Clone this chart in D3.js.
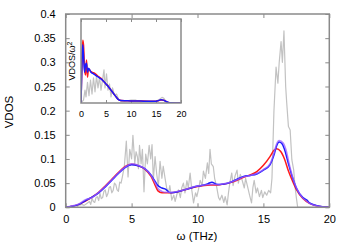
<!DOCTYPE html>
<html>
<head>
<meta charset="utf-8">
<script src="https://cdn.jsdelivr.net/npm/d3@7"></script>
<style>
  body { margin: 0; background: #fff; }
  svg text { font-family: "Liberation Sans", Arial, sans-serif; fill: #000; }
</style>
</head>
<body>
<div id="chart"></div>
<script>
// main panel: VDOS vs omega (THz)
const grayW = [0,0.2,0.4,0.6,0.8,1.0,1.2,1.4,1.6,1.8,1.9,2.0,2.1,2.2,2.3,2.4,2.5,2.6,2.7,2.8,2.9,3.0,3.1,3.2,3.3,3.4,3.5,3.6,3.7,3.8,3.9,4.0,4.1,4.2,4.3,4.45,4.6,4.73,4.86,5.0,5.1,5.24,5.34,5.44,5.52,5.6,5.72,5.82,5.94,6.07,6.2,6.33,6.45,6.55,6.65,6.78,6.9,7.03,7.16,7.3,7.4,7.54,7.66,7.8,7.9,8.05,8.2,8.3,8.45,8.55,8.7,8.8,8.93,9.05,9.2,9.3,9.44,9.57,9.7,9.85,9.95,10.1,10.2,10.35,10.45,10.6,10.75,10.85,10.95,11.05,11.2,11.3,11.45,11.6,11.7,11.85,12.0,12.1,12.25,12.35,12.45,12.6,12.7,12.85,13.0,13.1,13.25,13.4,13.55,13.65,13.8,13.95,14.1,14.2,14.3,14.45,14.55,14.7,14.85,14.95,15.1,15.25,15.4,15.55,15.65,15.8,15.96,16.1,16.2,16.34,16.44,16.56,16.69,16.77,16.9,17.03,17.16,17.3,17.4,17.5,17.6,18.0,20]
const grayV = [0,0,0,0,0,0.004,0.006,0.004,0.008,0.012,0.006,0.019,0.012,0.01,0.02,0.022,0.014,0.029,0.018,0.02,0.033,0.036,0.022,0.028,0.041,0.043,0.03,0.035,0.05,0.047,0.036,0.033,0.052,0.05,0.063,0.085,0.137,0.063,0.12,0.1,0.149,0.091,0.115,0.105,0.08,0.128,0.09,0.12,0.032,0.11,0.09,0.128,0.1,0.13,0.057,0.105,0.07,0.043,0.095,0.06,0.085,0.06,0.04,0.03,0.045,0.015,0.025,0.012,0.028,0.036,0.02,0.04,0.05,0.03,0.055,0.04,0.071,0.035,0.009,0.03,0.022,0.04,0.056,0.045,0.075,0.06,0.092,0.07,0.12,0.09,0.084,0.06,0.043,0.02,0.015,0.025,0.01,0.022,0.005,0.03,0.05,0.071,0.045,0.065,0.077,0.05,0.068,0.055,0.04,0.06,0.043,0.025,0.009,0.04,0.056,0.03,0.04,0.022,0.035,0.02,0.032,0.025,0.035,0.03,0.06,0.2,0.29,0.257,0.3,0.343,0.3,0.365,0.25,0.216,0.167,0.16,0.098,0.077,0.043,0.02,0,0,0]

const redW = [0,0.5,1,1.5,2,2.5,3,3.5,4,4.5,4.8,5,5.5,6,6.5,6.8,7,7.3,7.6,8,8.5,9,9.5,10,10.5,11,11.5,12,12.5,13,13.5,14,14.5,15,15.5,15.8,16,16.3,16.6,16.9,17.2,17.5,18,18.5,19,19.5,20]
const redV = [0,0.002,0.006,0.013,0.021,0.031,0.044,0.058,0.072,0.084,0.088,0.089,0.086,0.079,0.063,0.045,0.034,0.03,0.03,0.03,0.032,0.036,0.04,0.043,0.045,0.046,0.046,0.048,0.051,0.056,0.062,0.067,0.074,0.087,0.105,0.118,0.121,0.116,0.1,0.075,0.055,0.037,0.018,0.008,0.003,0.001,0]

const blueW = [0,0.5,1,1.5,2,2.5,3,3.5,4,4.5,4.8,5,5.5,6,6.5,6.8,7,7.3,7.6,7.8,8,8.5,9,9.5,10,10.5,10.8,11.1,11.4,11.7,12,12.5,13,13.5,14,14.5,15,15.5,15.8,16,16.2,16.4,16.6,16.9,17.2,17.5,18,18.3,18.5,19,19.5,20]
const blueV = [0,0.002,0.006,0.014,0.021,0.03,0.042,0.056,0.07,0.082,0.087,0.088,0.086,0.08,0.066,0.053,0.045,0.04,0.037,0.032,0.03,0.032,0.036,0.04,0.044,0.046,0.049,0.052,0.048,0.047,0.048,0.052,0.058,0.064,0.066,0.069,0.077,0.088,0.108,0.127,0.135,0.132,0.12,0.09,0.062,0.04,0.02,0.015,0.009,0.004,0.001,0]

const purpW = [0,0.5,1,1.5,2,2.5,3,3.5,4,4.5,4.8,5,5.5,6,6.5,6.8,7,7.3,7.6,8,8.5,9,9.5,10,10.5,11,11.5,12,12.5,13,13.5,14,14.5,15,15.5,15.8,16,16.2,16.5,16.7,17,17.3,17.6,18,18.5,19,19.5,20]
const purpV = [0,0.003,0.007,0.016,0.02,0.031,0.043,0.057,0.071,0.083,0.088,0.09,0.087,0.08,0.065,0.05,0.039,0.033,0.031,0.031,0.033,0.036,0.041,0.044,0.046,0.047,0.047,0.049,0.052,0.057,0.063,0.066,0.07,0.078,0.09,0.112,0.131,0.138,0.133,0.12,0.085,0.055,0.035,0.019,0.008,0.003,0.001,0]

// inset: VDOS / omega^2
const inGrayW = [0,0.5,0.8,1.0,1.3,1.6,1.9,2.2,2.5,2.8,3.1,3.4,3.7,4.0,4.3,4.6,4.8,5.1,5.4,5.7,6.0,6.3,6.7,7.1,7.5,8,9,10,11,12,13,14,15,15.8,16.2,16.5,17,17.5,20]
const inGrayV = [0,0.0005,0.0023,0.0011,0.0037,0.0013,0.0041,0.0016,0.0045,0.002,0.0048,0.0027,0.0046,0.0023,0.0041,0.0059,0.0027,0.0052,0.0023,0.0034,0.0011,0.0027,0.0014,0.0016,0.0007,0.0003,0.00036,0.0005,0.0005,0.0002,0.0004,0.0002,0.0003,0.0007,0.001,0.0009,0.0003,0,0]

const inRedW = [0,0.2,0.35,0.5,0.7,0.9,1.1,1.3,1.5,2,2.5,3,3.5,4,4.5,5,5.5,6,6.5,7,7.5,8,9,10,11,12,13,14,15,15.5,16,16.5,17,17.5,18,20]
const inRedV = [0,0.0077,0.0112,0.0104,0.0064,0.005,0.0077,0.0046,0.0061,0.0056,0.0054,0.0051,0.0047,0.0044,0.0039,0.0034,0.0029,0.0023,0.0017,0.0011,0.0006,0.00045,0.0004,0.00036,0.00035,0.00034,0.00033,0.00032,0.00032,0.0004,0.00054,0.0005,0.00027,0.0001,0.00005,0]

const inBlueW = [0,0.2,0.35,0.5,0.7,0.9,1.1,1.3,1.5,2,2.5,3,3.5,4,4.5,5,5.5,6,6.5,7,7.5,8,9,10,11,12,13,14,15,15.5,16,16.5,17,17.5,18,20]
const inBlueV = [0,0.0072,0.0104,0.0086,0.0055,0.0068,0.0071,0.0055,0.0062,0.0055,0.0052,0.0049,0.0046,0.0043,0.0039,0.0034,0.0029,0.0023,0.0017,0.0011,0.0006,0.00045,0.0004,0.00036,0.00036,0.00034,0.00033,0.00032,0.00033,0.00042,0.0006,0.00052,0.00027,0.0001,0.00005,0]

const xTicks = [0,5,10,15,20]
const yTicks = [0,0.05,0.1,0.15,0.2,0.25,0.3,0.35,0.4]
const yTickLabels = ['0','0.05','0.1','0.15','0.2','0.25','0.3','0.35','0.4']

let W = 350, H = 245
let m = {left: 65.7, right: 329.3, top: 14, bottom: 207.3}
let ins = {left: 81, right: 181, top: 19, bottom: 103}

var svg = d3.select('#chart').append('svg')
    .attr('width', W)
    .attr('height', H)

var x = d3.scaleLinear().domain([0, 20]).range([m.left, m.right])
var y = d3.scaleLinear().domain([0, 0.4]).range([m.bottom, m.top])

function drawLine(g, xs, ys, W_, V_, color, width, opacity, curve) {
    var pts = W_.map((w, i) => [w, V_[i]])
    g.append('path')
        .datum(pts)
        .attr('fill', 'none')
        .attr('stroke', color)
        .attr('stroke-width', width)
        .attr('stroke-opacity', opacity)
        .attr('stroke-linejoin', 'round')
        .attr('d', d3.line().x(d => xs(d[0])).y(d => ys(d[1])).curve(curve || d3.curveMonotoneX))
}

function styleAxis(g) {
    g.select('.domain').remove()
    g.selectAll('.tick line').attr('stroke', '#8a8a8a').attr('stroke-width', 1)
}

// main axes, ticks pointing inwards
svg.append('g')
    .attr('transform', 'translate(0,' + m.bottom + ')')
    .call(d3.axisBottom(x).tickValues(xTicks).tickSizeInner(-4).tickSizeOuter(0).tickPadding(8).tickFormat(d3.format('d')))
    .call(styleAxis)
    .selectAll('text').style('font-size', '11px')
svg.append('g')
    .attr('transform', 'translate(0,' + m.top + ')')
    .call(d3.axisTop(x).tickValues(xTicks).tickSizeInner(-4).tickSizeOuter(0).tickFormat(''))
    .call(styleAxis)
svg.append('g')
    .attr('transform', 'translate(' + m.left + ',0)')
    .call(d3.axisLeft(y).tickValues(yTicks).tickSizeInner(-4).tickSizeOuter(0).tickPadding(10).tickFormat((d, i) => yTickLabels[i]))
    .call(styleAxis)
    .selectAll('text').style('font-size', '11px')
svg.append('g')
    .attr('transform', 'translate(' + m.right + ',0)')
    .call(d3.axisRight(y).tickValues(yTicks).tickSizeInner(-4).tickSizeOuter(0).tickFormat(''))
    .call(styleAxis)

var mainG = svg.append('g')
drawLine(mainG, x, y, grayW, grayV, '#c2c2c2', 1.2, 1, d3.curveLinear)
drawLine(mainG, x, y, redW, redV, '#ff1a1a', 1.5, 1)
drawLine(mainG, x, y, blueW, blueV, '#1a1aff', 1.5, 1)
drawLine(mainG, x, y, purpW, purpV, '#9a5cff', 1.5, 0.75)

svg.append('rect')
    .attr('x', m.left).attr('y', m.top)
    .attr('width', m.right - m.left).attr('height', m.bottom - m.top)
    .attr('fill', 'none').attr('stroke', '#8a8a8a').attr('stroke-width', 1.5)

svg.append('text')
    .attr('x', 197).attr('y', 240)
    .attr('text-anchor', 'middle')
    .style('font-size', '11.5px')
    .text('ω (THz)')
svg.append('text')
    .attr('transform', 'translate(13,112) rotate(-90)')
    .attr('text-anchor', 'middle')
    .style('font-size', '11.5px')
    .text('VDOS')

// inset
var xi = d3.scaleLinear().domain([0, 20]).range([ins.left, ins.right])
var yi = d3.scaleLinear().domain([0, 0.015]).range([ins.bottom, ins.top])

svg.append('rect')
    .attr('x', ins.left).attr('y', ins.top)
    .attr('width', ins.right - ins.left).attr('height', ins.bottom - ins.top)
    .attr('fill', '#fff')

svg.append('clipPath').attr('id', 'insClip')
    .append('rect')
    .attr('x', ins.left).attr('y', ins.top)
    .attr('width', ins.right - ins.left).attr('height', ins.bottom - ins.top)

svg.append('g')
    .attr('transform', 'translate(0,' + ins.bottom + ')')
    .call(d3.axisBottom(xi).tickValues(xTicks).tickSizeInner(-3).tickSizeOuter(0).tickPadding(8).tickFormat(d3.format('d')))
    .call(styleAxis)
    .selectAll('text').style('font-size', '9px')
svg.append('g')
    .attr('transform', 'translate(0,' + ins.top + ')')
    .call(d3.axisTop(xi).tickValues(xTicks).tickSizeInner(-3).tickSizeOuter(0).tickFormat(''))
    .call(styleAxis)

var insG = svg.append('g').attr('clip-path', 'url(#insClip)')
drawLine(insG, xi, yi, inGrayW, inGrayV, '#c2c2c2', 1.2, 1, d3.curveLinear)
drawLine(insG, xi, yi, inRedW, inRedV, '#ff1a1a', 1.5, 1)
drawLine(insG, xi, yi, inBlueW, inBlueV, '#1a1aff', 1.5, 1)

svg.append('rect')
    .attr('x', ins.left).attr('y', ins.top)
    .attr('width', ins.right - ins.left).attr('height', ins.bottom - ins.top)
    .attr('fill', 'none').attr('stroke', '#8a8a8a').attr('stroke-width', 1.5)

var it = svg.append('text')
    .attr('transform', 'translate(75,61) rotate(-90)')
    .attr('text-anchor', 'middle')
    .style('font-size', '9px')
it.append('tspan').text('VDOS/ω')
it.append('tspan').attr('dy', '-0.4em').style('font-size', '7px').text('2')
</script>
</body>
</html>
